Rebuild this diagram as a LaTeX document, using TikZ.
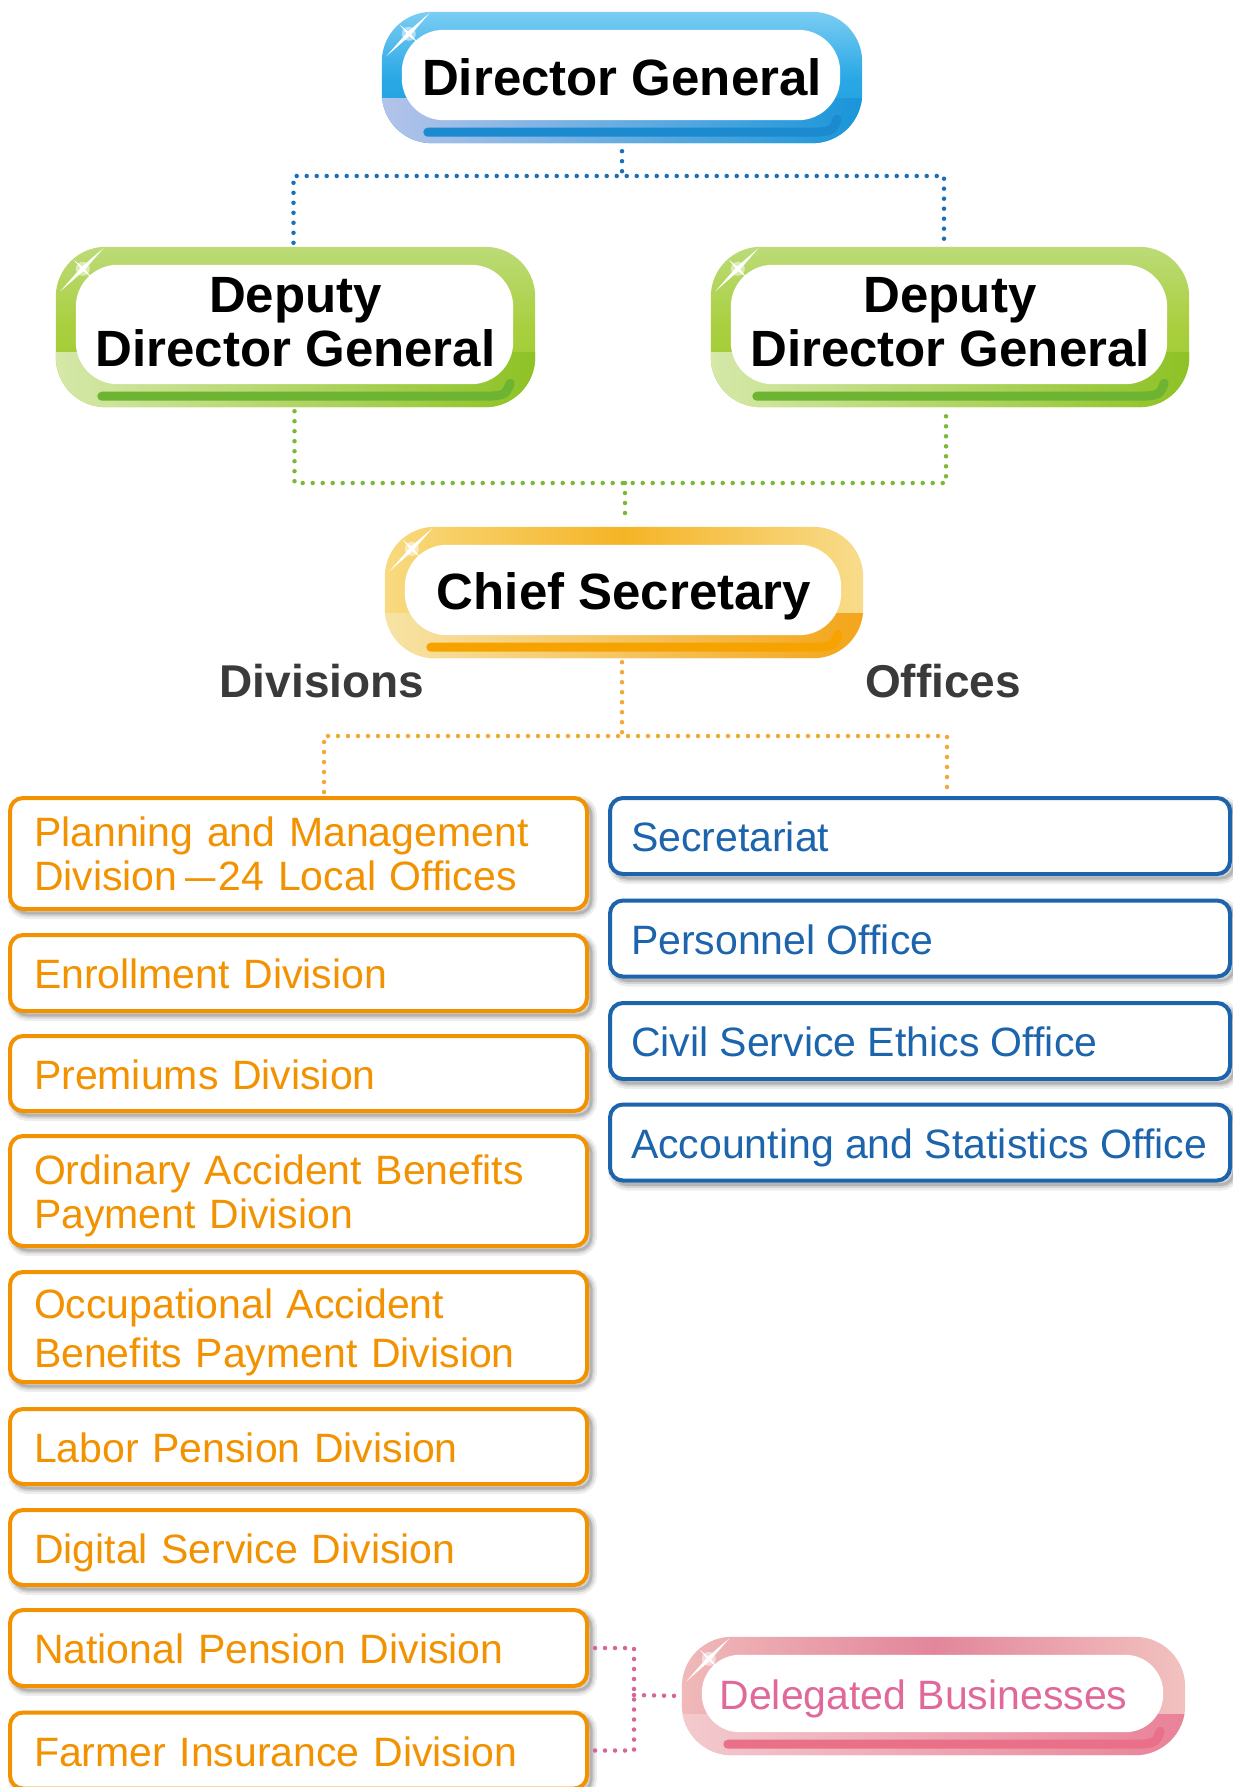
\documentclass[tikz,border=0pt]{standalone}
\usepackage{fontspec}
\setmainfont{Liberation Sans}
\usetikzlibrary{calc}
\pgfdeclarelayer{bg}
\pgfsetlayers{bg,main}
\definecolor{orng}{HTML}{F39200}
\definecolor{blu}{HTML}{1C64AC}
\definecolor{pinktext}{HTML}{E0689A}
\definecolor{lbl}{HTML}{3A3A3A}
\definecolor{dotblue}{HTML}{1A6FB8}
\definecolor{dotgreen}{HTML}{7CB837}
\definecolor{dotorange}{HTML}{F3A833}
\definecolor{dotpink}{HTML}{D9649A}
% pill colours
\definecolor{dgA}{HTML}{7BCDF3}\definecolor{dgB}{HTML}{2AA8E5}\definecolor{dgC}{HTML}{1C9DDC}
\definecolor{dgL}{HTML}{B3C3EA}\definecolor{dgR}{HTML}{1996D9}\definecolor{dgBar}{HTML}{1B8ACE}
\definecolor{grA}{HTML}{BCDB78}\definecolor{grB}{HTML}{A9CF3E}\definecolor{grC}{HTML}{9BC92C}
\definecolor{grL}{HTML}{D5E8A8}\definecolor{grR}{HTML}{8EC225}\definecolor{grBar}{HTML}{6CB431}
\definecolor{orA}{HTML}{F8DA80}\definecolor{orB}{HTML}{F5B426}\definecolor{orC}{HTML}{F8DC8C}
\definecolor{orL}{HTML}{F7E3A5}\definecolor{orR}{HTML}{F4A51A}\definecolor{orBar}{HTML}{F6A300}
\definecolor{pkA}{HTML}{F0B9B9}\definecolor{pkB}{HTML}{E2869C}\definecolor{pkC}{HTML}{F2C2BF}
\definecolor{pkL}{HTML}{F2CACD}\definecolor{pkR}{HTML}{E98299}\definecolor{pkBar}{HTML}{EA6F88}
\newcommand\topfont{\fontsize{51pt}{54pt}\selectfont\bfseries}
\newcommand\boxfont{\fontsize{41pt}{44pt}\selectfont}
\newcommand\lblfont{\fontsize{46pt}{50pt}\selectfont\bfseries}
\newcommand\offtxt[1]{\makebox[578pt][l]{#1}}
% #1 node, #2 shading keys, #3 band left, #4 band right, #5 bar colour, #6 inner radius
\newcommand\glosspill[6]{%
 \begin{pgfonlayer}{bg}
  \shade[#2, rounded corners=50pt] (#1.north west) rectangle (#1.south east);
  \begin{scope}
   \clip[rounded corners=50pt] (#1.north west) rectangle (#1.south east);
   \shade[left color=#3, right color=#4] ($(#1.south west)!0.34!(#1.north west)$) rectangle (#1.south east);
  \end{scope}
  \fill[white, rounded corners=#6] ([xshift=20pt,yshift=-18pt]#1.north west) rectangle ([xshift=-22pt,yshift=23pt]#1.south east);
  \draw[#5, line width=9pt, line cap=round] ([xshift=46pt,yshift=11pt]#1.south west) -- ([xshift=-62pt,yshift=11pt]#1.south east) .. controls ([xshift=-30pt,yshift=11pt]#1.south east) .. ([xshift=-25pt,yshift=24pt]#1.south east);
  \begin{scope}[shift={([xshift=27pt,yshift=-22pt]#1.north west)}]
   \fill[white, opacity=0.5] (0,0) circle (7);
   \fill[white] (-22.6,22.6) -- (1.5,1.5) -- (21,-21) -- (-1.5,-1.5) -- cycle;
   \fill[white] (-9,-9) -- (1,-1) -- (9,9) -- (-1,1) -- cycle;
  \end{scope}
 \end{pgfonlayer}}
\tikzset{
 pilltext/.style={font=\topfont, align=center, inner sep=0pt, text=black},
 softshadow/.style={
   preaction={draw=black, draw opacity=0.07, line width=12pt, transform canvas={xshift=4pt, yshift=-4pt}},
   preaction={draw=black, draw opacity=0.10, line width=7pt, transform canvas={xshift=4pt, yshift=-4pt}},
   preaction={draw=black, draw opacity=0.15, line width=3pt, transform canvas={xshift=4pt, yshift=-4pt}}},
 divbox/.style={softshadow, draw=orng, line width=4pt, rounded corners=13pt, fill=white, text=orng,
   font=\boxfont, align=left, text width=529pt, inner xsep=24pt, inner ysep=0pt,
   minimum width=577pt},
 oneline/.style={text height=31pt, text depth=0pt},
 offbox/.style={softshadow, draw=blu, line width=4pt, rounded corners=13pt, fill=white, text=blu,
   font=\boxfont, inner xsep=21pt, inner ysep=0pt, oneline,
   minimum width=620pt, minimum height=76pt},
 dotline/.style={line width=4.5pt, line cap=round, dash pattern=on 0pt off 10pt}
}
\begin{document}
\begin{tikzpicture}[x=1pt,y=-1pt]
\begin{pgfonlayer}{bg}
 \fill[white] (0,0) rectangle (1232,1787);
\end{pgfonlayer}
\useasboundingbox (0,0) rectangle (1232,1787);

% top pills
\node[pilltext, minimum width=480pt, minimum height=131pt] (dg) at (622,77.5) {Director General};
\node[pilltext, minimum width=479pt, minimum height=160pt] (ddgL) at (295.5,327) {Deputy\\Director General\rule[-10pt]{0pt}{0pt}};
\node[pilltext, minimum width=478pt, minimum height=160pt] (ddgR) at (950,327) {Deputy\\Director General\rule[-10pt]{0pt}{0pt}};
\node[pilltext, minimum width=478pt, minimum height=131pt] (cs) at (624,592.5) {\rule{0pt}{44pt}Chief Secretary};
\node[font=\boxfont, text=pinktext, inner sep=0pt, minimum width=503pt, minimum height=118pt] (dlg) at (933.5,1696) {\rule{0pt}{35pt}Delegated Businesses\kern20pt};

\glosspill{dg}{top color=dgA, bottom color=dgC, middle color=dgB}{dgL}{dgR}{dgBar}{42pt}
\glosspill{ddgL}{top color=grA, bottom color=grC, middle color=grB}{grL}{grR}{grBar}{42pt}
\glosspill{ddgR}{top color=grA, bottom color=grC, middle color=grB}{grL}{grR}{grBar}{42pt}
\glosspill{cs}{left color=orA, right color=orC, middle color=orB}{orL}{orR}{orBar}{42pt}
\glosspill{dlg}{left color=pkA, right color=pkC, middle color=pkB}{pkL}{pkR}{pkBar}{38pt}

% labels
\node[font=\lblfont, text=lbl] (divl) at (322,681) {Divisions};
\node[font=\lblfont, text=lbl] (offl) at (943,681) {Offices};

% divisions
\node[divbox, minimum height=111pt] (pm) at (298.5,853.5) {Planning and Management\\Division\kern8pt\scalebox{0.74}[1]{—}\kern3pt 24 Local Offices};
\node[divbox, oneline, minimum height=76pt] (en) at (298.5,973) {Enrollment Division};
\node[divbox, oneline, minimum height=75pt] (pr) at (298.5,1073.5) {Premiums Division};
\node[divbox, minimum height=110pt] (oa) at (298.5,1191) {\rule{0pt}{40pt}Ordinary Accident Benefits\\Payment Division};
\node[divbox, minimum height=110pt] (oc) at (298.5,1327) {\rule{0pt}{41pt}Occupational Accident\\[5pt]Benefits Payment Division};
\node[divbox, oneline, minimum height=75pt] (lp) at (298.5,1446.5) {Labor Pension Division};
\node[divbox, oneline, minimum height=75pt] (ds) at (298.5,1547.5) {Digital Service Division};
\node[divbox, oneline, minimum height=76pt] (np) at (298.5,1648) {National Pension Division};
\node[divbox, oneline, minimum height=76pt] (fi) at (298.5,1750.5) {Farmer Insurance Division};

% offices
\node[offbox] (sec) at (920,836) {\offtxt{Secretariat}};
\node[offbox] (per) at (920,938.5) {\offtxt{Personnel Office}};
\node[offbox] (cse) at (920,1041) {\offtxt{Civil Service Ethics Office}};
\node[offbox] (acc) at (920,1142.5) {\offtxt{Accounting and Statistics Office}};

% connectors
\coordinate (b1) at (622,176);
\draw[dotline, dotblue, shorten <=8pt] (dg.south) -- (b1);
\draw[dotline, dotblue, shorten <=4pt, shorten >=4pt] ([xshift=-2pt]ddgL.north) |- (b1) -| ([xshift=-6pt]ddgR.north);

\coordinate (g1) at (625,483);
\draw[dotline, dotgreen, shorten <=4pt, shorten >=4pt] ([xshift=-1pt]ddgL.south) |- (g1) -| ([xshift=-4pt]ddgR.south);
\draw[dotline, dotgreen, shorten >=4pt] (g1) -- (g1 |- cs.north);

\coordinate (o1) at (622,736);
\coordinate (oL) at (324,736);
\coordinate (oR) at (947,736);
\draw[dotline, dotorange, shorten <=4pt] (o1 |- cs.south) -- (o1);
\draw[dotline, dotorange, shorten <=4pt, shorten >=4pt] (oL |- pm.north) -- (oL) -- (oR) -- (oR |- sec.north);

\coordinate (p1) at (634,1695);
\draw[dotline, dotpink, shorten <=6pt] (np.east) -| (p1);
\draw[dotline, dotpink, shorten <=6pt] (fi.east) -| (p1);
\draw[dotline, dotpink, shorten >=4pt] (p1) -- (dlg.west);
\end{tikzpicture}
\end{document}
